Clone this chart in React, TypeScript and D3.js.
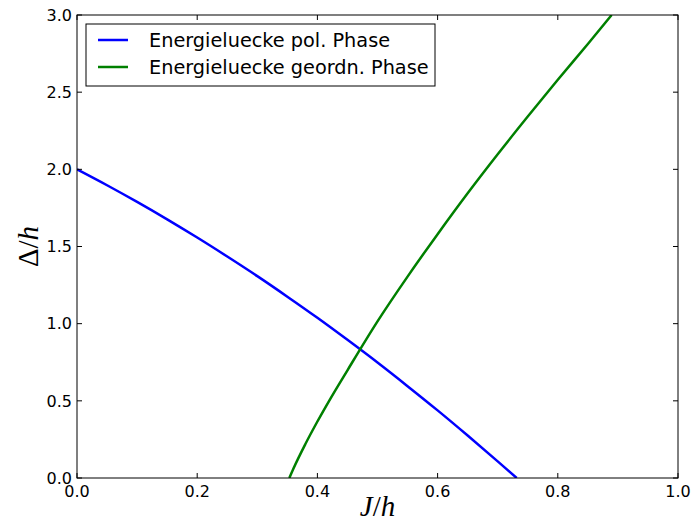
import React from "react";
import * as d3 from "d3";

const polX = [0.0, 0.05, 0.1, 0.15, 0.2, 0.25, 0.3, 0.35, 0.4, 0.45, 0.5, 0.55, 0.6, 0.65, 0.7, 0.7316];
const polY = [2.0, 1.897, 1.789, 1.676, 1.558, 1.435, 1.308, 1.175, 1.038, 0.895, 0.748, 0.595, 0.438, 0.275, 0.108, 0.0];

const ordX = [0.3533, 0.36, 0.38, 0.4, 0.421, 0.45, 0.5, 0.55, 0.6, 0.65, 0.7, 0.75, 0.8, 0.85, 0.8896];
const ordY = [0.0, 0.06, 0.22, 0.366, 0.51, 0.698, 1.015, 1.305, 1.58, 1.845, 2.098, 2.342, 2.58, 2.812, 3.0];

const xTicks = [0.0, 0.2, 0.4, 0.6, 0.8, 1.0];
const yTicks = [0.0, 0.5, 1.0, 1.5, 2.0, 2.5, 3.0];
const seriesNames = ["Energieluecke pol. Phase", "Energieluecke geordn. Phase"];
const seriesColors = ["#0000ff", "#008000"];

const W = 692, H = 530;
const L = 77, R = 678, T = 15, B = 478;

export default function App() {
  const x = d3.scaleLinear().domain([0, 1]).range([L, R]);
  const y = d3.scaleLinear().domain([0, 3]).range([B, T]);
  const line = d3
    .line<[number, number]>()
    .x((d) => x(d[0]))
    .y((d) => y(d[1]))
    .curve(d3.curveMonotoneX);
  const pol = polX.map((v, i) => [v, polY[i]] as [number, number]);
  const ord = ordX.map((v, i) => [v, ordY[i]] as [number, number]);
  const font = "DejaVu Sans, sans-serif";
  const tickLen = 5;
  return (
    <svg
      width={W}
      height={H}
      style={{ position: "absolute", left: 0, top: 0, display: "block", background: "#fff" }}
    >
      <defs>
        <clipPath id="plotclip">
          <rect x={L} y={T} width={R - L} height={B - T} />
        </clipPath>
      </defs>
      <rect x={0} y={0} width={W} height={H} fill="#fff" />
      <g clipPath="url(#plotclip)">
        <path d={line(pol) || ""} fill="none" stroke={seriesColors[0]} strokeWidth={2.5} />
        <path d={line(ord) || ""} fill="none" stroke={seriesColors[1]} strokeWidth={2.5} />
      </g>
      <rect x={L} y={T} width={R - L} height={B - T} fill="none" stroke="#000" strokeWidth={1} />
      {xTicks.map((t) => (
        <g key={"x" + t}>
          <line x1={x(t)} x2={x(t)} y1={B} y2={B - tickLen} stroke="#000" />
          <line x1={x(t)} x2={x(t)} y1={T} y2={T + tickLen} stroke="#000" />
          <text x={x(t)} y={497} textAnchor="middle" fontFamily={font} fontSize={16} fill="#000">
            {t.toFixed(1)}
          </text>
        </g>
      ))}
      {yTicks.map((t) => (
        <g key={"y" + t}>
          <line x1={L} x2={L + tickLen} y1={y(t)} y2={y(t)} stroke="#000" />
          <line x1={R} x2={R - tickLen} y1={y(t)} y2={y(t)} stroke="#000" />
          <text x={72} y={y(t)} dy="0.36em" textAnchor="end" fontFamily={font} fontSize={16} fill="#000">
            {t.toFixed(1)}
          </text>
        </g>
      ))}
      <text x={(L + R) / 2} y={516} textAnchor="middle" fontFamily="Liberation Serif, serif" fontSize={29} fill="#000">
        <tspan fontStyle="italic">J</tspan>
        <tspan>/</tspan>
        <tspan fontStyle="italic">h</tspan>
      </text>
      <text
        transform={`translate(38,${(T + B) / 2}) rotate(-90)`}
        textAnchor="middle"
        fontFamily="Liberation Serif, serif"
        fontSize={29}
        fill="#000"
      >
        <tspan>Δ</tspan>
        <tspan>/</tspan>
        <tspan fontStyle="italic">h</tspan>
      </text>
      <rect x={86} y={24} width={349} height={62} fill="#fff" stroke="#000" strokeWidth={1} />
      {seriesNames.map((n, i) => (
        <g key={n}>
          <line x1={98} x2={128} y1={40 + i * 27} y2={40 + i * 27} stroke={seriesColors[i]} strokeWidth={2.5} />
          <text x={149} y={40 + i * 27} dy="0.36em" fontFamily={font} fontSize={19.3} fill="#000">
            {n}
          </text>
        </g>
      ))}
    </svg>
  );
}
